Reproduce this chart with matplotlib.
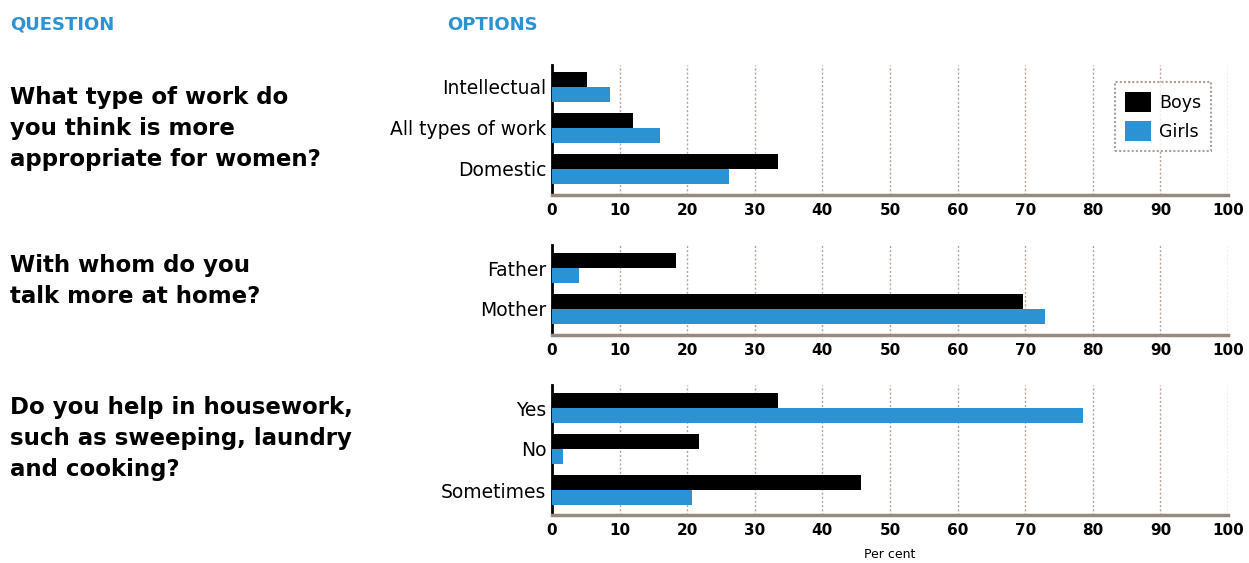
import numpy as np
import matplotlib.pyplot as plt

BLUE = "#2b93d3"
GRID = "#b8a496"

questions = [
    "What type of work do\nyou think is more\nappropriate for women?",
    "With whom do you\ntalk more at home?",
    "Do you help in housework,\nsuch as sweeping, laundry\nand cooking?",
]
options = [
    ["Intellectual", "All types of work", "Domestic"],
    ["Father", "Mother"],
    ["Yes", "No", "Sometimes"],
]
boys = [
    [5.2, 12.0, 33.5],
    [18.3, 69.7],
    [33.5, 21.7, 45.7],
]
girls = [
    [8.6, 16.0, 26.2],
    [4.0, 73.0],
    [78.5, 1.6, 20.7],
]
ticks = list(range(0, 101, 10))

W, H = 1249, 563
fig = plt.figure(figsize=(W / 100, H / 100), dpi=100)
plt.rcParams["font.family"] = ["DejaVu Sans"]

# panel pixel extents: (top, bottom) and (first group centre)
panels = [(65, 195, 87), (245, 335, 268), (385, 515, 408)]
q_y = [86, 254, 396]
unit = 41.0  # px per category
x0, x1 = 552, 1228

for i, (top, bot, c0) in enumerate(panels):
    ax = fig.add_axes([x0 / W, 1 - bot / H, (x1 - x0) / W, (bot - top) / H])
    n = len(options[i])
    y = np.arange(n)
    h = 0.37
    ax.barh(y - h / 2, boys[i], height=h, color="black", label="Boys", zorder=3)
    ax.barh(y + h / 2, girls[i], height=h, color=BLUE, label="Girls", zorder=3)
    ax.set_ylim((bot - c0) / unit, (top - c0) / unit)
    ax.set_xlim(0, 100)
    ax.set_xticks(ticks)
    ax.set_xticklabels([str(t) for t in ticks], fontsize=11, fontweight="bold")
    ax.set_yticks(y)
    ax.set_yticklabels(options[i], fontsize=13.5)
    ax.tick_params(axis="both", length=0, pad=4)
    ax.tick_params(axis="x", pad=6)
    for t in ticks[1:]:
        ax.axvline(t, color=GRID, lw=1, ls=(0, (1.5, 1.5)), zorder=1)
    for s in ["top", "right"]:
        ax.spines[s].set_visible(False)
    ax.spines["left"].set_linewidth(2)
    ax.spines["bottom"].set_color("#978a80")
    ax.spines["bottom"].set_linewidth(2.5)
    ax.spines["bottom"].set_linestyle((0, (1, 1)))
    ax.set_facecolor("none")

    fig.text(10 / W, 1 - q_y[i] / H, questions[i], fontsize=16.5, fontweight="bold",
             va="top", ha="left", linespacing=1.45)

    if i == 0:
        leg = ax.legend(loc="upper left", bbox_to_anchor=((1115 - x0) / (x1 - x0), 1 - (82 - top) / (bot - top)),
                        borderaxespad=0, fontsize=12.5, frameon=True, fancybox=False, handlelength=1.5,
                        handleheight=1.45, borderpad=0.55, labelspacing=0.5, handletextpad=0.5)
        leg.get_frame().set_edgecolor("#978a80")
        leg.get_frame().set_linestyle((0, (1, 1)))
        leg.get_frame().set_linewidth(1.5)
    if i == 2:
        ax.set_xlabel("Per cent", fontsize=9, labelpad=7)

fig.text(10 / W, 1 - 25 / H, "QUESTION", color=BLUE, fontsize=13, fontweight="heavy", va="center")
fig.text(447 / W, 1 - 25 / H, "OPTIONS", color=BLUE, fontsize=13, fontweight="heavy", va="center")

fig.savefig("out.png", dpi=100)
